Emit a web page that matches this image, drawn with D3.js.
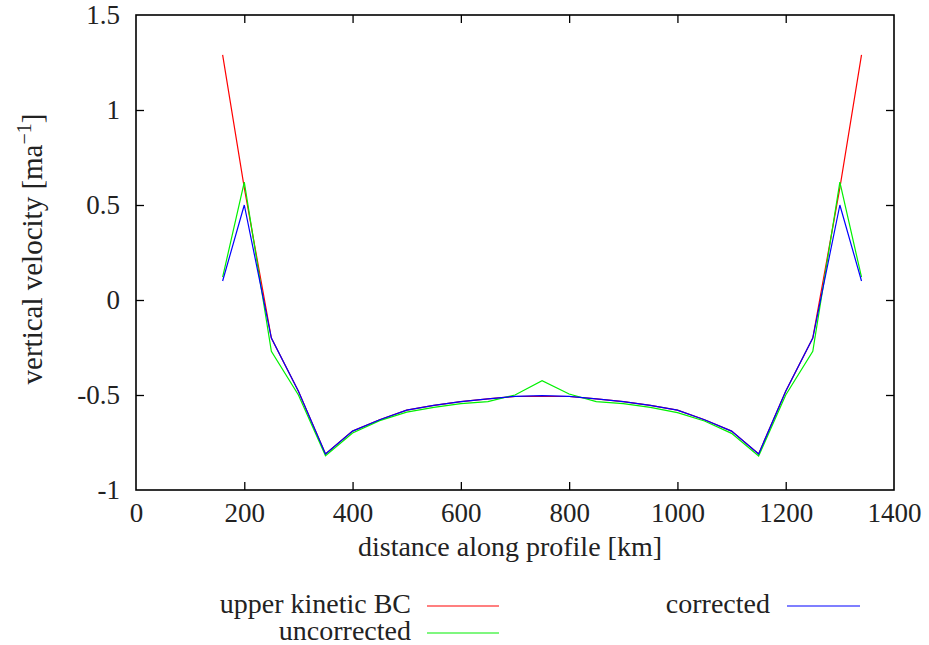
<!DOCTYPE html>
<html>
<head>
<meta charset="utf-8">
<script src="https://cdn.jsdelivr.net/npm/d3@7"></script>
<style>
  html, body { margin: 0; padding: 0; background: #fff; }
</style>
</head>
<body>
<svg id="chart" width="929" height="645"></svg>
<script>
// ---- data ----
const distanceKm = [160, 200, 250, 300, 350, 400, 450, 500, 550, 600, 650, 700, 750,
                    800, 850, 900, 950, 1000, 1050, 1100, 1150, 1200, 1250, 1300, 1340];
const upperKineticBC = [1.29, 0.59, -0.20, -0.48, -0.81, -0.69, -0.63, -0.58, -0.555, -0.535, -0.52, -0.508, -0.507,
                        -0.508, -0.52, -0.535, -0.555, -0.58, -0.63, -0.69, -0.81, -0.48, -0.20, 0.59, 1.29];
const uncorrected = [0.12, 0.62, -0.27, -0.50, -0.82, -0.70, -0.635, -0.59, -0.565, -0.545, -0.535, -0.50, -0.425,
                     -0.495, -0.535, -0.545, -0.565, -0.593, -0.637, -0.702, -0.821, -0.50, -0.27, 0.62, 0.12];
const corrected = [0.10, 0.50, -0.20, -0.48, -0.81, -0.69, -0.63, -0.58, -0.555, -0.535, -0.52, -0.507, -0.503,
                   -0.507, -0.52, -0.535, -0.555, -0.58, -0.63, -0.69, -0.81, -0.48, -0.20, 0.50, 0.10];
const xTicks = [0, 200, 400, 600, 800, 1000, 1200, 1400];
const yTicks = [-1, -0.5, 0, 0.5, 1, 1.5];
const seriesNames = ["upper kinetic BC", "uncorrected", "corrected"];
const seriesColors = ["#ff0000", "#00f000", "#0000ff"];

// ---- layout ----
const FONT = "'Times New Roman', Times, 'Liberation Serif', Tinos, 'DejaVu Serif', serif";
const svg = d3.select("#chart");
const mLeft = 136, mRight = 894, mTop = 15, mBottom = 490;
const fsTick = 27, fsLab = 28;

const x = d3.scaleLinear().domain([0, 1400]).range([mLeft, mRight]);
const y = d3.scaleLinear().domain([-1, 1.5]).range([mBottom, mTop]);

const fmtY = d => String(d);

// axes (ticks pointing inward, mirrored)
const gB = svg.append("g").attr("transform", `translate(0,${mBottom})`)
  .call(d3.axisBottom(x).tickValues(xTicks).tickSizeInner(-8).tickSizeOuter(0).tickPadding(13).tickFormat(d3.format("d")));
const gT = svg.append("g").attr("transform", `translate(0,${mTop})`)
  .call(d3.axisTop(x).tickValues(xTicks.slice(1, -1)).tickSizeInner(-8).tickSizeOuter(0).tickFormat(""));
const gL = svg.append("g").attr("transform", `translate(${mLeft},0)`)
  .call(d3.axisLeft(y).tickValues(yTicks).tickSizeInner(-8).tickSizeOuter(0).tickPadding(16).tickFormat(fmtY));
const gR = svg.append("g").attr("transform", `translate(${mRight},0)`)
  .call(d3.axisRight(y).tickValues(yTicks.slice(1, -1)).tickSizeInner(-8).tickSizeOuter(0).tickFormat(""));

[gB, gT, gL, gR].forEach(g => {
  g.attr("font-family", null).attr("font-size", null);
  g.select(".domain").remove();
  g.selectAll(".tick line").attr("stroke", "#000").attr("stroke-width", 1.3);
  g.selectAll(".tick text").style("font-family", FONT).style("font-size", fsTick + "px").attr("fill", "#222");
});
// no tick marks at the very corners
gB.selectAll(".tick").filter(d => d === 0 || d === 1400).select("line").remove();
gL.selectAll(".tick").filter(d => d === -1 || d === 1.5).select("line").remove();

// series lines
const series = [upperKineticBC, uncorrected, corrected];
const line = d3.line().x((d, i) => x(distanceKm[i])).y(d => y(d));
series.forEach((vals, k) => {
  svg.append("path").datum(vals)
    .attr("fill", "none")
    .attr("stroke", seriesColors[k])
    .attr("stroke-width", 1.2)
    .attr("d", line);
});

// frame
svg.append("rect")
  .attr("x", mLeft).attr("y", mTop)
  .attr("width", mRight - mLeft).attr("height", mBottom - mTop)
  .attr("fill", "none").attr("stroke", "#000").attr("stroke-width", 1.6);

// axis titles
svg.append("text")
  .attr("x", 510).attr("y", 556)
  .attr("text-anchor", "middle")
  .style("font-family", FONT).style("font-size", fsLab + "px").attr("fill", "#222")
  .text("distance along profile [km]");

const yl = svg.append("text")
  .attr("transform", `translate(42,249) rotate(-90)`)
  .attr("text-anchor", "middle")
  .style("font-family", FONT).style("font-size", "29px").attr("fill", "#222");
yl.append("tspan").text("vertical velocity [ma");
yl.append("tspan").style("font-size", "20px").attr("dy", -11).text("−1");
yl.append("tspan").attr("dy", 11).text("]");

// legend
const legendItems = [
  { name: seriesNames[0], color: seriesColors[0], tx: 411, lx0: 427, lx1: 499, ly: 606 },
  { name: seriesNames[1], color: seriesColors[1], tx: 411, lx0: 427, lx1: 499, ly: 633 },
  { name: seriesNames[2], color: seriesColors[2], tx: 770, lx0: 787, lx1: 860, ly: 606 }
];
const lg = svg.append("g");
legendItems.forEach(it => {
  lg.append("text")
    .attr("x", it.tx).attr("y", it.ly + 7)
    .attr("text-anchor", "end")
    .style("font-family", FONT).style("font-size", fsLab + "px").attr("fill", "#222")
    .text(it.name);
  lg.append("line")
    .attr("x1", it.lx0).attr("x2", it.lx1)
    .attr("y1", it.ly).attr("y2", it.ly)
    .attr("stroke", it.color).attr("stroke-width", 1.2);
});
</script>
</body>
</html>
